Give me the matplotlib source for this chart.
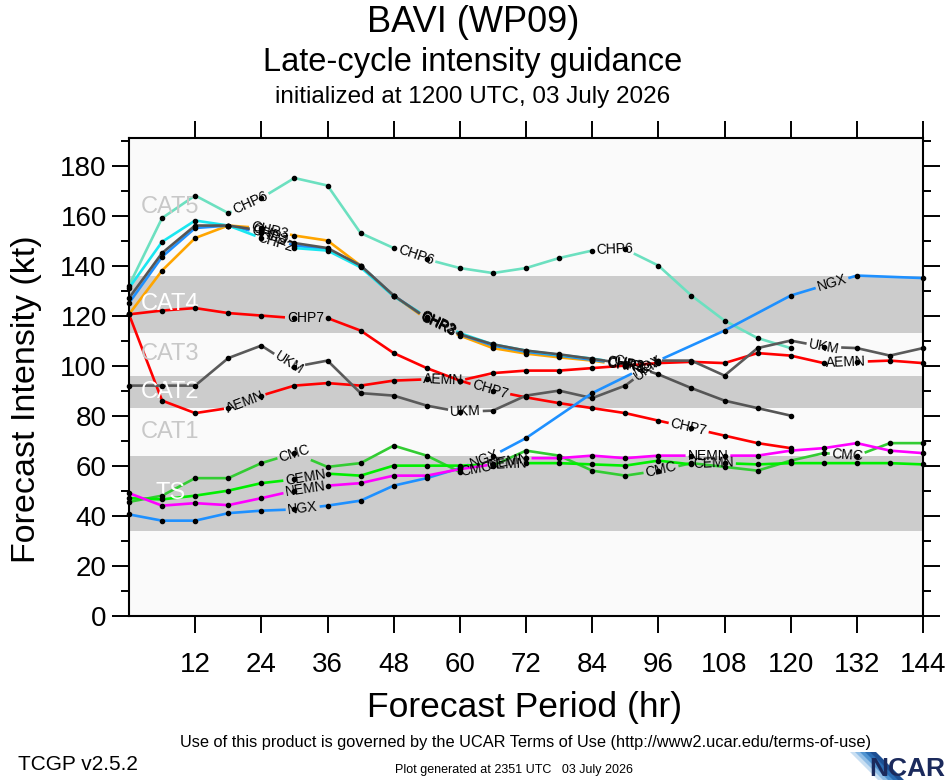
import numpy as np
import matplotlib
matplotlib.use("Agg")
import matplotlib.pyplot as plt
from matplotlib.patches import Polygon
from matplotlib.font_manager import FontProperties

FONT = ["Liberation Sans Narrow", "Liberation Sans", "DejaVu Sans"]
plt.rcParams["font.family"] = FONT

# ── data (kt) ────────────────────────────────────────────────────────────────
H_90 = list(range(0, 91, 6))
H_120 = list(range(0, 121, 6))
H_144 = list(range(0, 145, 6))
H_NGX = list(range(0, 73, 6)) + [84, 96, 108, 120, 132, 144]

CHP6 = [132, 159, 168, 161, 167, 175, 172, 153, 147, 142.5, 139, 137, 139, 143,
        146, 146.5, 140, 128, 118, 111, 107]
CHR3 = [120.5, 138, 151, 156, 155, 152, 150, 140, 128, 118.5, 112, 107, 104.8,
        103.3, 102, 100]
CHR2 = [125, 143.5, 155, 156, 153, 148, 146.5, 140, 128, 119, 112.5, 108, 105.5,
        104, 102.3, 100.5]
CHP2 = [131, 149.5, 158, 156, 151, 147, 146, 139.3, 127.7, 119.5, 113, 108.5,
        106, 104.3, 102.8, 100.8]
CHP3 = [127, 145, 156, 156, 154, 149, 147, 140, 128, 119, 112.5, 108.5, 106,
        104.5, 102.7, 100.8, 96.5, 91, 86, 83, 80]
CHP7 = [120.5, 122, 123, 121, 120, 119, 119, 114, 105, 99, 94, 90, 87.3, 85, 83,
        81, 78, 75, 72, 69, 67]
AEMN = [120.5, 86, 81, 83, 88, 92, 93, 92, 94, 94.5, 94, 97, 98, 98, 99, 100,
        101, 101.5, 101, 105, 104, 101, 101.5, 102, 101]
UKM = [92, 92, 92, 103, 108, 99.5, 102, 89, 88, 84, 81.5, 82, 88, 90, 87, 92,
       102, 102, 96, 107, 110, 107.5, 107, 104, 107]
NGX = [40.5, 38, 38, 41, 42, 42.5, 44, 46, 52, 55, 59, 64, 71, 89, 102, 114, 128,
       136, 135]
CMC = [45.5, 48, 55, 55, 61, 65, 59.5, 61, 68, 64, 57.5, 60, 66, 64, 58, 56, 58,
       61, 59.5, 58, 62, 65, 64, 69, 69]
CEMN = [47, 46.5, 48, 50, 53, 54.5, 56.8, 56, 60, 60, 60, 60.5, 61, 61, 60.5, 60,
        62, 60.5, 61, 60.5, 61, 61, 61, 61, 60.5]
NEMN = [49, 44, 45, 44.2, 47, 50, 52, 53, 56, 56, 58.6, 60.5, 63, 63, 64, 63, 64,
        64, 64, 64, 66, 67, 69, 66, 65]

# where the line labels sit (forecast hour)
LAB_CHP6 = [22, 52, 88]
LAB_CLUSTER = [25.5, 56, 91]
LAB_CHP7 = [32, 65.5, 101.5]
LAB_AEMN = [21, 57, 130]
LAB_UKM = [29, 61, 94, 126]
LAB_NGX = [31.5, 64.5, 94, 127.5]
LAB_CMC = [30, 63, 96.5, 130.3]
LAB_CEMN = [32, 68.5, 106]
LAB_NEMN = [32, 69, 105]

BANDS = [("TS", 34, 64), ("CAT1", 64, 83), ("CAT2", 83, 96), ("CAT3", 96, 113),
         ("CAT4", 113, 136), ("CAT5", 136, 191)]
SHADED = {"TS", "CAT2", "CAT4"}

YMAX = 191

series = [
    ("CHP6", H_120, CHP6, "#6ce0c0", LAB_CHP6),
    ("CHR3", H_90, CHR3, "#ffa500", LAB_CLUSTER),
    ("CHR2", H_90, CHR2, "#1e90ff", LAB_CLUSTER),
    ("CHP2", H_90, CHP2, "#19e6f0", [26.5, 56, 91]),
    ("CHP3", H_120, CHP3, "#555555", LAB_CLUSTER),
    ("CHP7", H_120, CHP7, "#ff0000", LAB_CHP7),
    ("AEMN", H_144, AEMN, "#ff0000", LAB_AEMN),
    ("UKM", H_144, UKM, "#5a5a5a", LAB_UKM),
    ("NGX", H_NGX, NGX, "#1e90ff", LAB_NGX),
    ("CMC", H_144, CMC, "#33cc33", LAB_CMC),
    ("CEMN", H_144, CEMN, "#00ee00", LAB_CEMN),
    ("NEMN", H_144, NEMN, "#ff00ff", LAB_NEMN),
]

# ── figure ───────────────────────────────────────────────────────────────────
W, H = 946, 780
fig = plt.figure(figsize=(W / 100, H / 100), dpi=100, facecolor="white")
ax = fig.add_axes([129 / W, 1 - 615.7 / H, (923 - 129) / W, (615.7 - 138) / H])
ax.set_xlim(0, 144)
ax.set_ylim(0, YMAX)
ax.set_facecolor("#fafafa")

for name, lo, hi in BANDS:
    if name in SHADED:
        ax.axhspan(lo, hi, color="#cccccc", lw=0, zorder=0)
    ax.text(7.5, (lo + hi) / 2, name, ha="center", va="center", fontsize=17,
            color="white" if name in SHADED else "#c8c8c8", zorder=3.5,
            family=["Liberation Sans", "DejaVu Sans"])

for sp in ax.spines.values():
    sp.set_linewidth(1.5)
    sp.set_zorder(10)
ax.set_xticks(range(12, 145, 12))
ax.set_yticks(range(0, 181, 20))
ax.set_yticks(range(10, 191, 20), minor=True)
ax.tick_params(axis="both", which="major", direction="out", length=12, width=1.4,
               labelsize=20)
ax.tick_params(axis="y", which="minor", direction="out", length=6, width=1.4)
ax.tick_params(axis="x", top=True, pad=14)
ax.tick_params(axis="y", right=True, which="both", pad=4)

renderer = fig.canvas.get_renderer()
lab_font = FontProperties(family=FONT, size=10)


def line_with_labels(hours, vals, color, name, lab_hours, z):
    xy = ax.transData.transform(np.column_stack([hours, vals]))
    s = np.concatenate([[0], np.cumsum(np.hypot(*np.diff(xy, axis=0).T))])
    tw, th, _ = renderer.get_text_width_height_descent(name, lab_font, ismath=False)
    half = tw / 2 + 2
    gaps = []
    for t in lab_hours:
        xd = ax.transData.transform((t, 0))[0]
        sc = np.interp(xd, xy[:, 0], s)
        i = min(max(np.searchsorted(xy[:, 0], xd) - 1, 0), len(xy) - 2)
        dx, dy = xy[i + 1] - xy[i]
        pos = (np.interp(sc, s, xy[:, 0]), np.interp(sc, s, xy[:, 1]))
        pd_ = ax.transData.inverted().transform(pos)
        ax.text(pd_[0], pd_[1], name, fontproperties=lab_font,
                rotation=np.degrees(np.arctan2(dy, dx)),
                rotation_mode="anchor", ha="center", va="center", zorder=z + 2)
        gaps.append((sc - half, sc + half))
    keep, start = [], 0
    for a, b in sorted(gaps):
        keep.append((start, a))
        start = b
    keep.append((start, s[-1]))
    inv = ax.transData.inverted()
    for a, b in keep:
        if b <= a:
            continue
        pts = [(np.interp(a, s, xy[:, 0]), np.interp(a, s, xy[:, 1]))]
        pts += [tuple(p) for p, si in zip(xy, s) if a < si < b]
        pts.append((np.interp(b, s, xy[:, 0]), np.interp(b, s, xy[:, 1])))
        d = inv.transform(np.array(pts))
        ax.plot(d[:, 0], d[:, 1], color=color, lw=1.9, solid_capstyle="butt", zorder=z)
    ax.plot(hours, vals, "o", ms=3, color="black", zorder=z + 1, clip_on=False)


for k, (name, hrs, vals, col, labs) in enumerate(series):
    line_with_labels(hrs, vals, col, name, labs, 3 + k * 0.01)

# ── texts ────────────────────────────────────────────────────────────────────
def fy(py):
    return 1 - py / H


TITLE_FONT = ["Liberation Sans", "DejaVu Sans"]
fig.text(473 / W, fy(22), "BAVI (WP09)", ha="center", va="center", fontsize=26,
         family=TITLE_FONT)
fig.text(473 / W, fy(62), "Late-cycle intensity guidance", ha="center", va="center",
         fontsize=23.5, family=TITLE_FONT)
fig.text(473 / W, fy(97), "initialized at 1200 UTC, 03 July 2026", ha="center",
         va="center", fontsize=17.5, family=TITLE_FONT)
fig.text(27 / W, fy(399), "Forecast Intensity (kt)", rotation=90, ha="center",
         va="center", fontsize=24.5, family=TITLE_FONT)
fig.text(525 / W, fy(707), "Forecast Period (hr)", ha="center", va="center",
         fontsize=25.5, family=TITLE_FONT)
fig.text(525 / W, fy(742), "Use of this product is governed by the UCAR Terms of Use "
         "(http://www2.ucar.edu/terms-of-use)", ha="center", va="center", fontsize=11.8)
fig.text(18 / W, fy(765), "TCGP v2.5.2", ha="left", va="center", fontsize=15)
fig.text(514 / W, fy(770), "Plot generated at 2351 UTC   03 July 2026", ha="center",
         va="center", fontsize=9)

# NCAR logo
for j, c in enumerate(["#c9dff2", "#8fbde6", "#4f93d0", "#2a6cb3", "#1d4f93"]):
    x0 = 850 + j * 5
    poly = Polygon([(x0 / W, fy(752)), ((x0 + 6) / W, fy(752)),
                    ((x0 + 34) / W, fy(780)), ((x0 + 28) / W, fy(780))],
                   closed=True, transform=fig.transFigure, color=c, lw=0)
    fig.add_artist(poly)
fig.text(945 / W, fy(769), "NCAR", ha="right", va="center", fontsize=19,
         fontweight="bold", color="#1b2a5c", family=TITLE_FONT)

fig.savefig("out.png", dpi=100, facecolor="white")
